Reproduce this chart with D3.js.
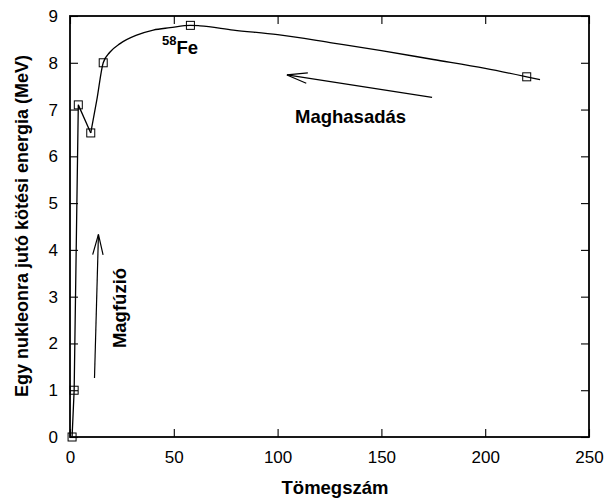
<!DOCTYPE html>
<html><head><meta charset="utf-8">
<script src="https://cdn.jsdelivr.net/npm/d3@7"></script>
<style>body{margin:0;background:#fff}svg{display:block}text{font-family:"Liberation Sans",Arial,sans-serif}</style>
</head><body>
<svg id="c" width="607" height="500"></svg>
<script>
// Measured points (mass number, binding energy per nucleon)
const massNumber = [1, 2, 4, 10, 16, 58, 220];
const bindingEnergy = [0, 1, 7.1, 6.5, 8.0, 8.8, 7.7];
// Straight-line part joins the first four points
const straightCount = 4;
// Smooth trend curve
const curveMass = [10, 12.9, 16, 19.3, 24.1, 32.1, 40.1, 48.2, 58, 62.6, 78.7, 100, 126.8, 150, 175, 200, 220, 226.4];
const curveEnergy = [6.5, 7.2, 8.0, 8.23, 8.41, 8.59, 8.70, 8.75, 8.8, 8.79, 8.7, 8.6, 8.42, 8.26, 8.07, 7.88, 7.7, 7.64];
const xTicks = [0, 50, 100, 150, 200, 250];
const yTicks = [0, 1, 2, 3, 4, 5, 6, 7, 8, 9];
const xTitle = "Tömegszám";
const yTitle = "Egy nukleonra jutó kötési energia (MeV)";
// Annotation arrows in data units [x1,y1,x2,y2] (tail -> head)
const fissionArrow = [174.4, 7.26, 104.5, 7.74];
const fusionArrow = [11.8, 1.26, 13.7, 4.33];

const svg = d3.select("#c");
const L = 70, R = 589, T = 16, B = 437;
const x = d3.scaleLinear().domain([0, 250]).range([L, R]);
const y = d3.scaleLinear().domain([0, 9]).range([B, T]);
const fs = 17;

// Axes
const gx = svg.append("g").attr("transform", `translate(0,${B})`)
  .call(d3.axisBottom(x).tickValues(xTicks).tickSizeInner(-8).tickSizeOuter(0).tickPadding(14));
const gxt = svg.append("g").attr("transform", `translate(0,${T})`)
  .call(d3.axisTop(x).tickValues(xTicks).tickSizeInner(-8).tickSizeOuter(0).tickFormat(""));
const gy = svg.append("g").attr("transform", `translate(${L},0)`)
  .call(d3.axisLeft(y).tickValues(yTicks).tickSizeInner(-8).tickSizeOuter(0).tickPadding(12));
const gyr = svg.append("g").attr("transform", `translate(${R},0)`)
  .call(d3.axisRight(y).tickValues(yTicks).tickSizeInner(-8).tickSizeOuter(0).tickFormat(""));
[gx, gxt, gy, gyr].forEach(g => {
  g.select(".domain").remove();
  g.selectAll(".tick line").attr("stroke", "#000").attr("stroke-width", 1.1);
  g.selectAll("text").attr("font-size", fs).attr("fill", "#000").attr("font-family", '"Liberation Sans",Arial,sans-serif');
});
svg.append("rect").attr("x", L).attr("y", T).attr("width", R - L).attr("height", B - T)
  .attr("fill", "none").attr("stroke", "#000").attr("stroke-width", 1.8);

// Axis titles
svg.append("text").attr("x", 335).attr("y", 494).attr("text-anchor", "middle")
  .attr("font-size", 18.5).attr("font-weight", "bold").text(xTitle);
svg.append("text").attr("transform", "translate(28,226) rotate(-90)").attr("text-anchor", "middle")
  .attr("font-size", 18).attr("font-weight", "bold").text(yTitle);

// Data line
const pts = massNumber.map((m, i) => [m, bindingEnergy[i]]);
const line = d3.line().x(d => x(d[0])).y(d => y(d[1]));
svg.append("path").attr("d", line(pts.slice(0, straightCount)))
  .attr("fill", "none").attr("stroke", "#000").attr("stroke-width", 1.3);
const cpts = curveMass.map((m, i) => [m, curveEnergy[i]]);
svg.append("path").attr("d", line.curve(d3.curveMonotoneX)(cpts))
  .attr("fill", "none").attr("stroke", "#000").attr("stroke-width", 1.3);

// Markers
const ms = 8;
svg.selectAll("rect.pt").data(pts).enter().append("rect").attr("class", "pt")
  .attr("x", d => x(d[0]) - ms / 2).attr("y", d => y(d[1]) - ms / 2)
  .attr("width", ms).attr("height", ms).attr("fill", "none").attr("stroke", "#000").attr("stroke-width", 1);

// Arrows
function arrow(a) {
  const x1 = x(a[0]), y1 = y(a[1]), x2 = x(a[2]), y2 = y(a[3]);
  const ang = Math.atan2(y2 - y1, x2 - x1), len = 21, spread = 0.25;
  svg.append("line").attr("x1", x1).attr("y1", y1).attr("x2", x2).attr("y2", y2)
    .attr("stroke", "#000").attr("stroke-width", 1.2);
  const p = d3.path();
  p.moveTo(x2 - len * Math.cos(ang - spread), y2 - len * Math.sin(ang - spread));
  p.lineTo(x2, y2);
  p.lineTo(x2 - len * Math.cos(ang + spread), y2 - len * Math.sin(ang + spread));
  svg.append("path").attr("d", p.toString()).attr("fill", "none").attr("stroke", "#000").attr("stroke-width", 1.2);
}
arrow(fissionArrow);
arrow(fusionArrow);

// Annotations
svg.append("text").attr("x", 295).attr("y", 123).attr("font-size", 18.5).attr("font-weight", "bold").text("Maghasadás");
svg.append("text").attr("transform", "translate(126,308) rotate(-90)").attr("text-anchor", "middle")
  .attr("font-size", 18.5).attr("font-weight", "bold").text("Magfúzió");
const fe = svg.append("text").attr("x", 162).attr("y", 54).attr("font-weight", "bold").attr("font-size", 18.5);
fe.append("tspan").attr("font-size", 13).attr("dy", -9).text("58");
fe.append("tspan").attr("dy", 9).text("Fe");
</script>
</body></html>
